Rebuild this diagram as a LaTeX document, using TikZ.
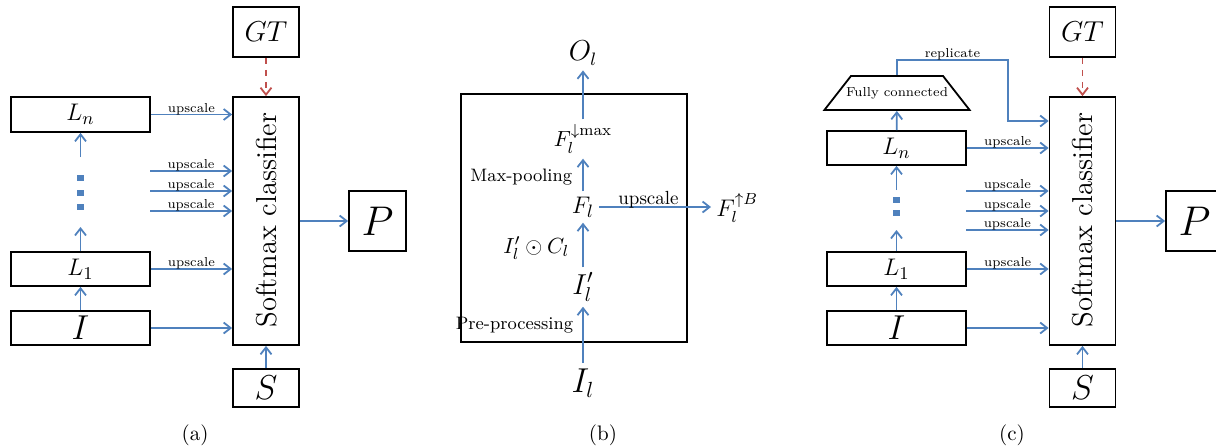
\documentclass[tikz,border=0pt]{standalone}
\usetikzlibrary{arrows.meta,shapes.geometric}
\definecolor{flowblue}{RGB}{79,129,189}
\definecolor{gtred}{RGB}{192,80,77}
\begin{document}
\begin{tikzpicture}[x=0.5pt, y=-0.5pt, >={Straight Barb[length=3.5pt,width=5.5pt]},
  box/.style={draw, line width=0.9pt, inner sep=0pt},
  flow/.style={->, flowblue, line width=0.9pt},
  gtflow/.style={->, gtred, dashed, line width=0.9pt},
  tag/.style={text=black, font=\fontsize{6.5}{7}\selectfont, inner sep=0pt, anchor=base, yshift=1.2pt},
  note/.style={text=black, font=\fontsize{9}{11}\selectfont, inner sep=1pt},
  mth/.style={inner sep=2.5pt},
  dot/.style={fill=flowblue, minimum size=3.3pt, inner sep=0pt},
  caption/.style={font=\fontsize{10.5}{12}\selectfont}]
\useasboundingbox (0,0) rectangle (1216,446);
% (a) layers into the softmax classifier
\node[box, minimum width=33pt, minimum height=25pt, font=\fontsize{15}{18}\selectfont] (a-gt) at (266,32) {$GT$};
\node[box, minimum width=33pt, minimum height=124pt] (a-soft) at (266,221) {};
\node[rotate=90, font=\fontsize{14.4}{17}\selectfont] (a-softtxt) at (267,220) {Softmax classifier};
\node[box, minimum width=69.5pt, minimum height=17.5pt, font=\fontsize{12.5}{15}\selectfont] (a-ln) at (80.5,114.5) {$L_n$};
\node[box, minimum width=69.5pt, minimum height=17pt, font=\fontsize{12.5}{15}\selectfont] (a-l1) at (80.5,269) {$L_1$};
\node[box, minimum width=69.5pt, minimum height=17pt, font=\fontsize{16}{19}\selectfont] (a-i) at (80.5,328) {$I$};
\node[box, minimum width=33pt, minimum height=19pt, font=\fontsize{17.5}{20}\selectfont] (a-s) at (266,388) {$S$};
\node[box, minimum width=28.5pt, minimum height=30pt, font=\fontsize{19.5}{22}\selectfont] (a-p) at (377.5,221) {$P$};
\foreach \y [count=\k] in {178,193,207}
  \node[dot] (a-dot\k) at (80.5,\y) {};
\coordinate (a-up1) at (80.5,227);
\coordinate (a-up2) at (80.5,157);
\draw[flow] (a-i) -- (a-l1);
\draw[flow] (a-l1) -- (a-up1);
\draw[flow] (a-up2) -- (a-ln);
\draw[flow] (a-ln) -- (a-ln -| a-soft.west) node[tag, midway] {upscale};
\foreach \y [count=\k] in {171,191,211} {
  \coordinate (a-in\k) at (150,\y);
  \draw[flow] (a-in\k) -- (a-in\k -| a-soft.west) node[tag, midway] {upscale};
}
\draw[flow] (a-l1) -- (a-l1 -| a-soft.west) node[tag, midway] {upscale};
\draw[flow] (a-i) -- (a-i -| a-soft.west);
\draw[gtflow] (a-gt) -- (a-soft);
\draw[flow] (a-s) -- (a-soft);
\draw[flow] (a-soft) -- (a-p);
\node[caption] (a-cap) at (195,435) {(a)};
% (b) one layer
\node[box, minimum width=113pt, minimum height=124pt] (b-blk) at (574,218) {};
\node[mth, font=\fontsize{13.4}{16}\selectfont] (b-ol) at (583,53) {$O_l$};
\node[mth, font=\fontsize{11}{13}\selectfont] (b-fmax) at (583,139) {$F_l^{\downarrow\max}$};
\node[mth, font=\fontsize{12.2}{15}\selectfont] (b-fl) at (583,207) {$F_l$};
\node[mth, font=\fontsize{11.5}{14}\selectfont, anchor=west] (b-fb) at (711,208) {$F_l^{\uparrow B}$};
\node[mth, font=\fontsize{14.6}{17}\selectfont] (b-ip) at (583,287) {$I'_l$};
\node[mth, font=\fontsize{15.9}{19}\selectfont] (b-il) at (583,383) {$I_l$};
\draw[flow] (b-il) -- (b-ip) node[note, pos=0.67, left=3.5pt] {Pre-processing};
\draw[flow] (b-ip) -- (b-fl) node[note, pos=0.43, left=5.5pt, font=\fontsize{11}{13}\selectfont] {$I'_l\odot C_l$};
\draw[flow] (b-fl) -- (b-fmax) node[note, pos=0.43, left=4pt] {Max-pooling};
\draw[flow] (b-fmax) -- (b-ol);
\draw[flow] (b-fl) -- (b-fl -| b-fb.west) node[tag, pos=0.44, font=\fontsize{9.5}{11}\selectfont, yshift=0.3pt] {upscale};
\node[caption] (b-cap) at (603,435) {(b)};
% (c) with the fully connected layer
\node[box, minimum width=33pt, minimum height=25pt, font=\fontsize{15}{18}\selectfont] (c-gt) at (1082.5,32) {$GT$};
\node[box, minimum width=33pt, minimum height=124pt] (c-soft) at (1082.5,221) {};
\node[rotate=90, font=\fontsize{14.4}{17}\selectfont] (c-softtxt) at (1083,220) {Softmax classifier};
\node[box, minimum width=28.5pt, minimum height=30pt, font=\fontsize{19.5}{22}\selectfont] (c-p) at (1194.5,221) {$P$};
\node[box, trapezium, trapezium left angle=52, trapezium right angle=52,
  inner xsep=-2.5pt, inner ysep=5.6pt, font=\fontsize{6.5}{8}\selectfont] (c-fc) at (897,93) {Fully connected};
\node[box, minimum width=69.5pt, minimum height=17pt, font=\fontsize{12.5}{15}\selectfont] (c-ln) at (896.5,148) {$L_n$};
\node[box, minimum width=69.5pt, minimum height=17pt, font=\fontsize{12.5}{15}\selectfont] (c-l1) at (896.5,269) {$L_1$};
\node[box, minimum width=69.5pt, minimum height=17pt, font=\fontsize{16}{19}\selectfont] (c-i) at (896.5,328) {$I$};
\node[box, minimum width=33pt, minimum height=19pt, font=\fontsize{17.5}{20}\selectfont] (c-s) at (1082.5,388) {$S$};
\foreach \y [count=\k] in {200,213}
  \node[dot] (c-dot\k) at (896.5,\y) {};
\coordinate (c-up1) at (896.5,230);
\coordinate (c-up2) at (896.5,190);
\coordinate (c-top) at (1008,60);
\coordinate (c-rep) at (1008,121);
\draw[flow] (c-i) -- (c-l1);
\draw[flow] (c-l1) -- (c-up1);
\draw[flow] (c-up2) -- (c-ln);
\draw[flow] (c-ln) -- (c-fc);
\draw[flow] (c-fc.north) |- (c-top) node[tag, pos=0.75] {replicate} -- (c-rep) -- (c-rep -| c-soft.west);
\draw[flow] (c-ln) -- (c-ln -| c-soft.west) node[tag, midway] {upscale};
\foreach \y [count=\k] in {191,211,230} {
  \coordinate (c-in\k) at (966,\y);
  \draw[flow] (c-in\k) -- (c-in\k -| c-soft.west) node[tag, midway] {upscale};
}
\draw[flow] (c-l1) -- (c-l1 -| c-soft.west) node[tag, midway] {upscale};
\draw[flow] (c-i) -- (c-i -| c-soft.west);
\draw[gtflow] (c-gt) -- (c-soft);
\draw[flow] (c-s) -- (c-soft);
\draw[flow] (c-soft) -- (c-p);
\node[caption] (c-cap) at (1012,435) {(c)};
\end{tikzpicture}
\end{document}
